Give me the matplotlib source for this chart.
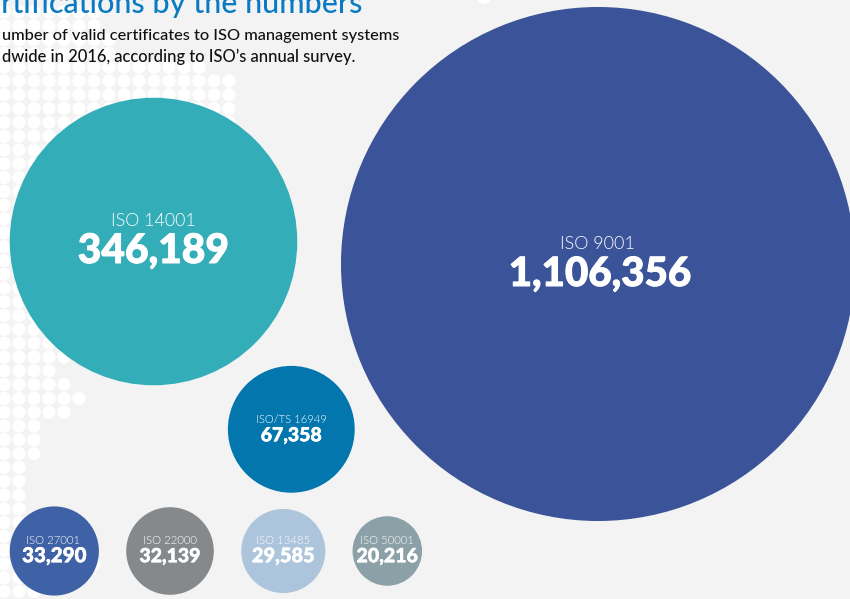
import matplotlib
matplotlib.use("Agg")
import matplotlib.pyplot as plt
import matplotlib.patheffects as pe
from matplotlib import font_manager as fm
from matplotlib.patches import Circle

standards = ["ISO 9001", "ISO 14001", "ISO/TS 16949", "ISO 27001",
             "ISO 22000", "ISO 13485", "ISO 50001"]
certificates = [1106356, 346189, 67358, 33290, 32139, 29585, 20216]

colors = ["#3b5398", "#33adb8", "#0376ae", "#3e62a5", "#85898c", "#acc4dc", "#8ba0a7"]
centers = [(598, 264), (153.5, 241.5), (291.3, 429.3), (54.3, 551),
           (170, 551), (283.3, 551), (387.3, 551)]
name_size = [13, 12.9, 8.1, 8.2, 8.2, 8.2, 8.2]
value_size = [29, 29.3, 14, 14.8, 14, 14.4, 14.1]
name_base = [-15, -15.5, -6.3, -7, -7, -7, -7]
value_base = [22, 21.5, 12, 11.2, 11.2, 11.2, 11.2]
name_dx = [-1, 0, 0, -1, 0, 0, 0]
value_dx = [2, 0, 0, 0, 0, 0, 0]

# circle area follows the certificate count
px_per_sqrt = 257 / 1106356 ** 0.5

# white dot backdrop: last column drawn on each row
row_last_col = [6, 6, 7, 7, 13, 15, 15, 15, 15,
                7, 7, 7, 7, 7, 7, 7, 7, 7, 7, 7, 7, 7, 7, 7,
                4, 4, 3, 4, 5, 4, 2, 2, 2, 1, 1, 1, 1, 1, 1, 1, 6, 2, 2]


def lato(style, fallback):
    for f in fm.fontManager.ttflist:
        if f"Lato-{style}." in f.fname:
            return fm.FontProperties(fname=f.fname)
    return fm.FontProperties(family="Lato", weight=fallback)


light = lato("Light", "normal")
heavy = lato("Black", "bold")
medium = lato("Medium", "normal")

fig = plt.figure(figsize=(8.5, 5.99), dpi=100, facecolor="#f3f3f3")
ax = fig.add_axes([0, 0, 1, 1])
ax.set_xlim(0, 850)
ax.set_ylim(599, 0)
ax.axis("off")

for row, last in enumerate(row_last_col):
    for col in range(last + 1):
        ax.add_patch(Circle((4 + 15 * col, 12 + 13.8 * row), 6.6, fc="white", ec="none", zorder=1))
ax.add_patch(Circle((484, -2.5), 6.6, fc="white", ec="none", zorder=1))

for i, name in enumerate(standards):
    x, y = centers[i]
    r = px_per_sqrt * certificates[i] ** 0.5
    ax.add_patch(Circle((x, y), r, fc=colors[i], ec="none", zorder=2))
    ax.text(x + name_dx[i], y + name_base[i], name, color="white", fontproperties=light,
            fontsize=name_size[i], ha="center", va="baseline", zorder=3)
    t = ax.text(x + value_dx[i], y + value_base[i], f"{certificates[i]:,}", color="white",
                fontproperties=heavy, fontsize=value_size[i], ha="center", va="baseline", zorder=3)
    # thicken the digits a little
    t.set_path_effects([pe.withStroke(linewidth=value_size[i] * 0.025, foreground="white")])

ax.text(362, 13, "ertifications by the numbers", color="#0a7bc2", fontproperties=medium, fontsize=22,
        ha="right", va="baseline", zorder=3)
ax.text(399, 40, "umber of valid certificates to ISO management systems", color="#111111",
        fontproperties=medium, fontsize=11.8, ha="right", va="baseline", zorder=3)
ax.text(355, 62, "dwide in 2016, according to ISO\u2019s annual survey.", color="#111111",
        fontproperties=medium, fontsize=11.9, ha="right", va="baseline", zorder=3)

fig.savefig("out.png", dpi=100)
